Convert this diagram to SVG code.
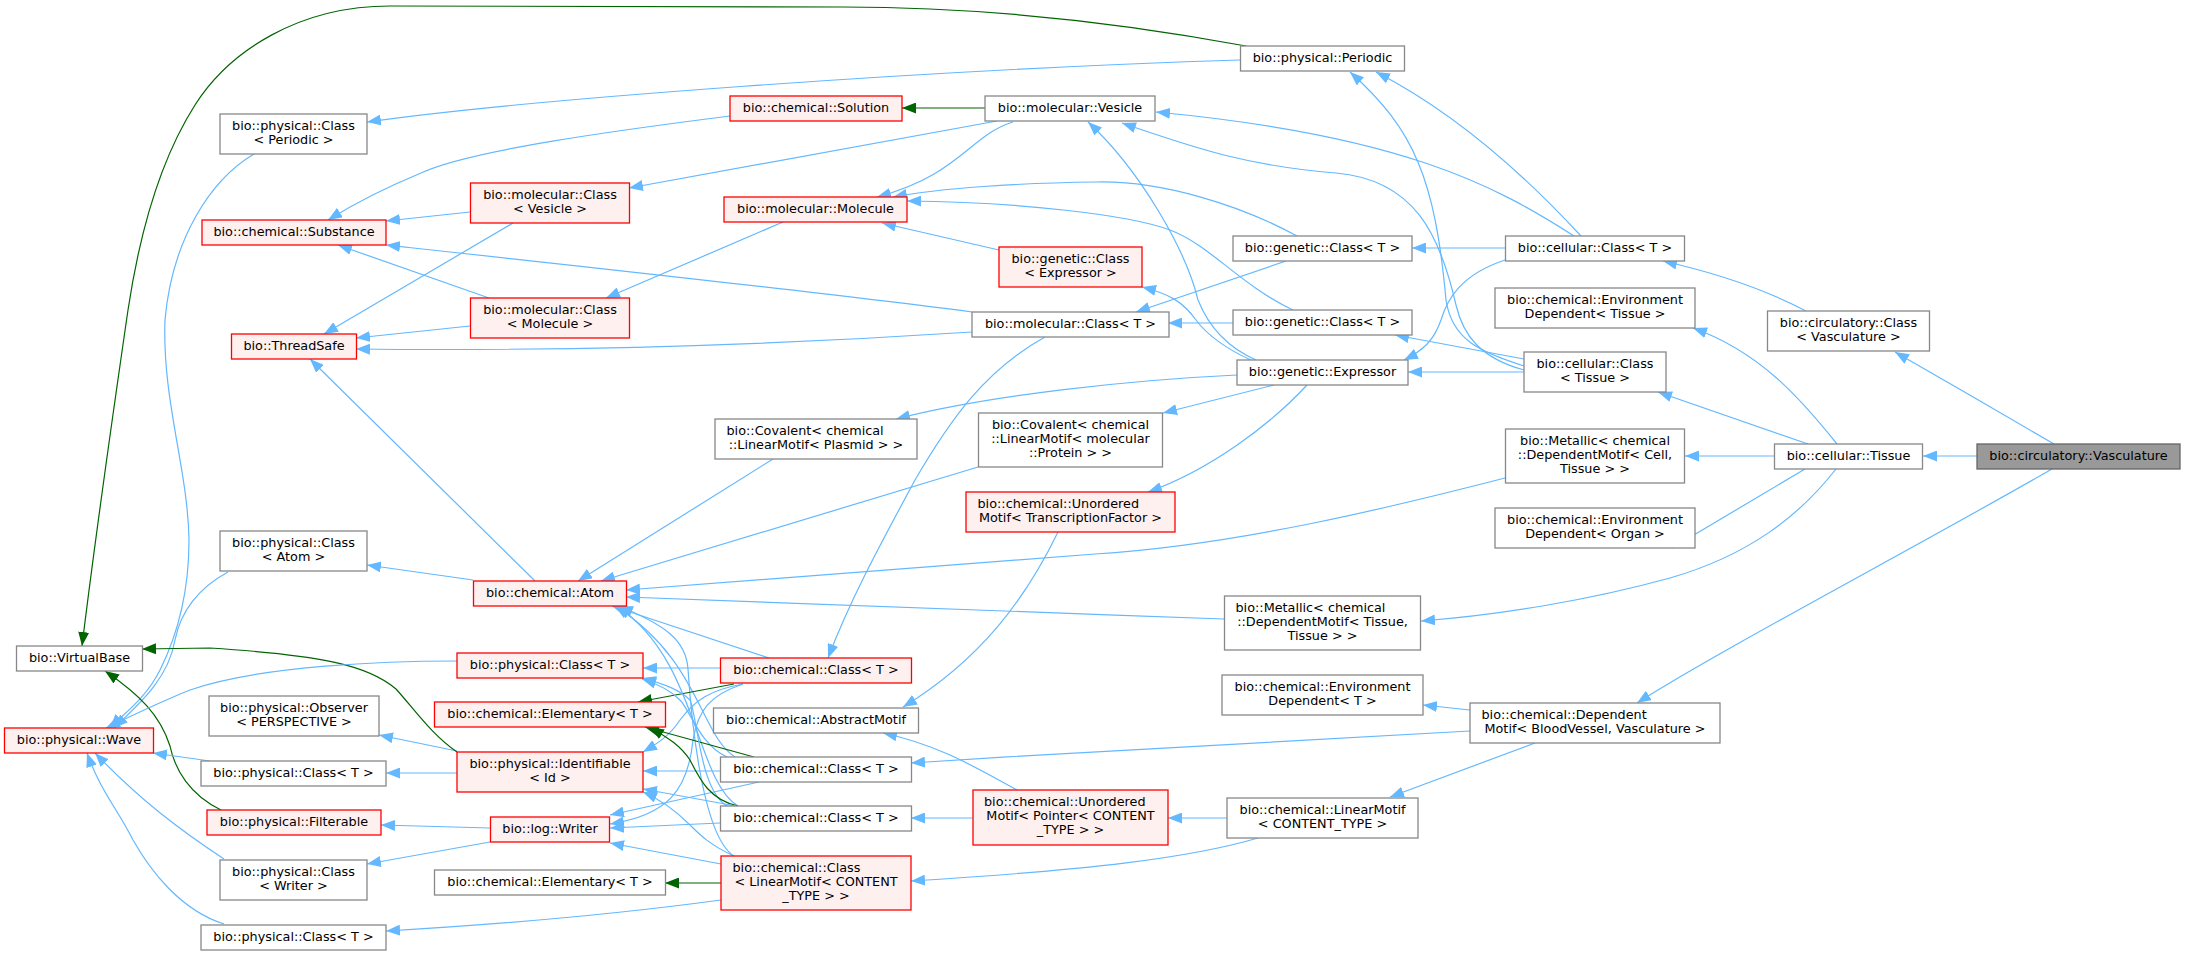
<svg xmlns="http://www.w3.org/2000/svg" width="2185" height="956" viewBox="0 0 2185 956">
<defs>
<style>
text{font-family:"DejaVu Sans","Liberation Sans",sans-serif;font-size:12.8px;fill:#000;text-anchor:middle}
text.l{text-anchor:start}
rect.n{fill:#fff;stroke:#888;stroke-width:1.3}
rect.r{fill:#fff0f0;stroke:#ff0000;stroke-width:1.3}
rect.t{fill:#999;stroke:#666;stroke-width:1.3}
#edges path{fill:none;stroke-width:1.2}
#edges path.b{stroke:#63b8ff;marker-end:url(#ab)}
#edges path.g{stroke:#006400;marker-end:url(#ag)}
</style>
<marker id="ab" viewBox="0 0 14 11" refX="14" refY="5.5" markerWidth="14" markerHeight="11" orient="auto" markerUnits="userSpaceOnUse"><path d="M0,0L14,5.5L0,11z" fill="#63b8ff"/></marker>
<marker id="ag" viewBox="0 0 14 11" refX="14" refY="5.5" markerWidth="14" markerHeight="11" orient="auto" markerUnits="userSpaceOnUse"><path d="M0,0L14,5.5L0,11z" fill="#006400"/></marker>
</defs>
<rect width="2185" height="956" fill="#fff"/>
<g id="edges">
<path class="b" d="M1977,456 L1923,456"/>
<path class="b" d="M2054,444 C2010,418 1940,378 1895,352"/>
<path class="b" d="M2052,469 C1920,545 1720,650 1637,703"/>
<path class="b" d="M1806,311 C1770,292 1725,275 1663,261"/>
<path class="b" d="M1837,444 C1800,398 1760,352 1693,328"/>
<path class="b" d="M1808,444 L1658,392"/>
<path class="b" d="M1775,456 L1685,456"/>
<path class="b" d="M1805,469 L1672,548"/>
<path class="b" d="M1836,469 C1800,515 1750,555 1670,578 C1590,600 1500,615 1421,621"/>
<path class="b" d="M1470,710 L1423,705"/>
<path class="b" d="M1470,731 C1320,738 1110,750 911,763"/>
<path class="b" d="M1535,743 C1490,760 1440,778 1390,797"/>
<path class="b" d="M1227,818 L1168,818"/>
<path class="b" d="M1258,838 C1190,858 1090,870 911,881"/>
<path class="b" d="M973,818 L911,818"/>
<path class="b" d="M1017,790 C980,770 940,745 883,733"/>
<path class="b" d="M1058,532 C1025,600 980,660 903,707"/>
<path class="b" d="M1307,385 C1270,425 1210,470 1148,492"/>
<path class="b" d="M1274,385 L1163,413"/>
<path class="b" d="M1237,375 C1130,380 990,395 896,419"/>
<path class="b" d="M1505,260 C1460,275 1447,300 1441,320 C1434,340 1424,350 1404,360"/>
<path class="b" d="M1524,372 L1408,372"/>
<path class="b" d="M1524,359 L1395,335"/>
<path class="b" d="M1524,366 C1480,352 1452,340 1446,300 C1435,180 1415,130 1350,72"/>
<path class="b" d="M1524,370 C1480,358 1463,335 1456,305 C1440,235 1415,180 1336,173 C1250,166 1200,150 1122,123"/>
<path class="b" d="M1581,236 C1520,170 1450,110 1376,72"/>
<path class="b" d="M1574,236 C1495,185 1400,135 1156,112"/>
<path class="b" d="M1505,248 L1412,248"/>
<path class="b" d="M1297,236 C1240,205 1160,180 1095,182 C1020,183 940,188 893,197"/>
<path class="b" d="M1293,310 C1240,285 1210,245 1170,230 C1130,215 1020,202 907,201"/>
<path class="b" d="M1286,261 L1136,312"/>
<path class="b" d="M1233,323 L1168,323"/>
<path class="b" d="M999,250 L882,223"/>
<path class="b" d="M1251,360 C1228,350 1207,335 1196,320 C1183,302 1170,294 1142,287"/>
<path class="b" d="M1256,360 C1222,345 1206,320 1198,300 C1186,250 1140,170 1088,122"/>
<path class="g" d="M985,108 L902,108"/>
<path class="b" d="M997,121 L629,188"/>
<path class="b" d="M1013,122 C970,135 960,175 877,197"/>
<path class="b" d="M1240,60 C920,70 520,100 367,122"/>
<path class="g" d="M1246,46 C1160,30 1010,7 843,7 L390,6 C300,6 230,50 195,105 C160,160 140,230 128,310 C112,420 95,540 82,646"/>
<path class="b" d="M254,154 C210,180 172,240 165,320 C162,400 188,470 189,540 C189,600 175,640 160,670 C145,700 122,715 110,728"/>
<path class="b" d="M228,572 C195,590 180,615 175,640 C168,680 138,705 114,728"/>
<path class="b" d="M473,580 L367,565"/>
<path class="b" d="M535,581 L310,359"/>
<path class="b" d="M773,459 L578,581"/>
<path class="b" d="M978,467 L601,581"/>
<path class="b" d="M1505,478 C1400,505 1240,545 1095,554 C920,568 770,580 626,590"/>
<path class="b" d="M1224,619 C1020,612 810,603 626,597"/>
<path class="b" d="M769,658 L612,606"/>
<path class="b" d="M735,757 C700,735 700,660 615,606"/>
<path class="b" d="M738,806 C695,780 698,660 617,606"/>
<path class="b" d="M734,856 C700,835 690,700 688,669 C686,640 665,625 619,606"/>
<path class="b" d="M1045,337 C985,370 950,420 915,480 C880,545 850,600 828,658"/>
<path class="b" d="M720,668 L643,668"/>
<path class="g" d="M734,684 L638,702"/>
<path class="b" d="M743,684 C710,690 695,700 680,720 C670,735 660,742 643,752"/>
<path class="b" d="M743,684 C710,695 698,710 693,740 C688,790 668,815 610,824"/>
<path class="b" d="M727,757 C700,745 690,710 680,700 C670,690 658,684 642,679"/>
<path class="g" d="M754,757 L645,727"/>
<path class="b" d="M720,771 L643,771"/>
<path class="b" d="M759,782 L610,815"/>
<path class="b" d="M727,806 C700,790 698,720 690,700 C680,690 665,684 642,678"/>
<path class="g" d="M738,806 C710,800 700,780 690,760 C680,745 668,738 650,727"/>
<path class="b" d="M736,806 L643,789"/>
<path class="b" d="M720,823 L610,828"/>
<path class="b" d="M734,856 C710,845 700,835 690,825 C675,810 662,800 643,792"/>
<path class="b" d="M721,864 L610,843"/>
<path class="g" d="M721,883 L665,883"/>
<path class="b" d="M721,900 C610,915 490,925 386,931"/>
<path class="b" d="M457,751 L379,735"/>
<path class="b" d="M457,773 L386,773"/>
<path class="g" d="M457,752 C432,735 415,710 396,689 C368,665 320,655 210,648 L142,649"/>
<path class="b" d="M490,828 L381,825"/>
<path class="b" d="M490,842 L367,864"/>
<path class="g" d="M221,810 C190,795 175,770 170,746 C160,715 140,695 105,671"/>
<path class="b" d="M457,661 C390,661 262,665 190,690 C160,702 133,715 106,728"/>
<path class="b" d="M210,761 L153,753"/>
<path class="b" d="M224,859 C180,830 140,800 95,753"/>
<path class="b" d="M224,924 C180,910 150,870 133,840 C118,810 100,790 87,753"/>
<path class="b" d="M730,116 C620,130 470,150 421,173 C380,190 352,205 328,220"/>
<path class="b" d="M470,212 L386,221"/>
<path class="b" d="M513,223 L324,334"/>
<path class="b" d="M489,298 L338,245"/>
<path class="b" d="M470,326 L356,338"/>
<path class="b" d="M783,222 L606,298"/>
<path class="b" d="M972,312 C820,292 570,265 386,245"/>
<path class="b" d="M972,332 C820,342 620,352 356,349"/>
</g>
<g id="n_vasc"><rect class="t" x="1977" y="444" width="203" height="25"/><text x="2078.5" y="460">bio::circulatory::Vasculature</text></g>
<g id="n_tissue"><rect class="n" x="1774.5" y="444" width="148" height="25"/><text x="1848.5" y="460">bio::cellular::Tissue</text></g>
<g id="n_circclass"><rect class="n" x="1767.5" y="311" width="162" height="40"/><text x="1848.5" y="326.5">bio::circulatory::Class</text><text x="1848.5" y="340.5">&lt; Vasculature &gt;</text></g>
<g id="n_cellclassT"><rect class="n" x="1505.5" y="236" width="179" height="25"/><text x="1595" y="252">bio::cellular::Class&lt; T &gt;</text></g>
<g id="n_envtissue"><rect class="n" x="1495" y="288" width="200" height="40"/><text x="1595" y="303.5">bio::chemical::Environment</text><text x="1595" y="317.5">Dependent&lt; Tissue &gt;</text></g>
<g id="n_cellclassTissue"><rect class="n" x="1524" y="352" width="142" height="40"/><text x="1595" y="367.5">bio::cellular::Class</text><text x="1595" y="381.5">&lt; Tissue &gt;</text></g>
<g id="n_metcell"><rect class="n" x="1505.5" y="429" width="179" height="54"/><text x="1595" y="445">bio::Metallic&lt; chemical</text><text x="1595" y="459">::DependentMotif&lt; Cell,</text><text x="1595" y="473">Tissue &gt; &gt;</text></g>
<g id="n_envorgan"><rect class="n" x="1495" y="508" width="200" height="40"/><text x="1595" y="523.5">bio::chemical::Environment</text><text x="1595" y="537.5">Dependent&lt; Organ &gt;</text></g>
<g id="n_mettissue"><rect class="n" x="1224.5" y="596" width="196" height="54"/><text class="l" x="1235.5" y="612">bio::Metallic&lt; chemical</text><text x="1322.5" y="626">::DependentMotif&lt; Tissue,</text><text x="1322.5" y="640">Tissue &gt; &gt;</text></g>
<g id="n_envT"><rect class="n" x="1222" y="675" width="201" height="40"/><text x="1322.5" y="690.5">bio::chemical::Environment</text><text x="1322.5" y="704.5">Dependent&lt; T &gt;</text></g>
<g id="n_depmotif"><rect class="n" x="1470" y="703" width="250" height="40"/><text class="l" x="1481.5" y="718.5">bio::chemical::Dependent</text><text x="1595" y="732.5">Motif&lt; BloodVessel, Vasculature &gt;</text></g>
<g id="n_linmotif"><rect class="n" x="1227" y="798" width="191" height="40"/><text x="1322.5" y="813.5">bio::chemical::LinearMotif</text><text x="1322.5" y="827.5">&lt; CONTENT_TYPE &gt;</text></g>
<g id="n_unptr"><rect class="r" x="973" y="790" width="195" height="55"/><text class="l" x="984" y="806">bio::chemical::Unordered</text><text x="1070.5" y="820">Motif&lt; Pointer&lt; CONTENT</text><text x="1070.5" y="834">_TYPE &gt; &gt;</text></g>
<g id="n_clslin"><rect class="r" x="721" y="856" width="190" height="54"/><text class="l" x="732.5" y="872">bio::chemical::Class</text><text x="816" y="886">&lt; LinearMotif&lt; CONTENT</text><text x="816" y="900">_TYPE &gt; &gt;</text></g>
<g id="n_chemT1"><rect class="r" x="720.5" y="658" width="191" height="25"/><text x="816" y="674">bio::chemical::Class&lt; T &gt;</text></g>
<g id="n_absmotif"><rect class="n" x="713.5" y="708" width="205" height="25"/><text x="816" y="724">bio::chemical::AbstractMotif</text></g>
<g id="n_chemT2"><rect class="n" x="720.5" y="757" width="191" height="25"/><text x="816" y="773">bio::chemical::Class&lt; T &gt;</text></g>
<g id="n_chemT3"><rect class="n" x="720.5" y="806" width="191" height="25"/><text x="816" y="822">bio::chemical::Class&lt; T &gt;</text></g>
<g id="n_physTred"><rect class="r" x="457" y="653" width="186" height="25"/><text x="550" y="669">bio::physical::Class&lt; T &gt;</text></g>
<g id="n_elemRed"><rect class="r" x="434.5" y="702" width="231" height="25"/><text x="550" y="718">bio::chemical::Elementary&lt; T &gt;</text></g>
<g id="n_ident"><rect class="r" x="457" y="752" width="186" height="40"/><text x="550" y="767.5">bio::physical::Identifiable</text><text x="550" y="781.5">&lt; Id &gt;</text></g>
<g id="n_writer"><rect class="r" x="490.5" y="817" width="119" height="25"/><text x="550" y="833">bio::log::Writer</text></g>
<g id="n_elemGray"><rect class="n" x="434.5" y="870" width="231" height="25"/><text x="550" y="886">bio::chemical::Elementary&lt; T &gt;</text></g>
<g id="n_virtual"><rect class="n" x="16.5" y="646" width="126" height="25"/><text x="79.5" y="662">bio::VirtualBase</text></g>
<g id="n_wave"><rect class="r" x="4.5" y="728" width="149" height="25"/><text x="79" y="744">bio::physical::Wave</text></g>
<g id="n_observer"><rect class="n" x="209" y="696" width="170" height="40"/><text x="294" y="711.5">bio::physical::Observer</text><text x="294" y="725.5">&lt; PERSPECTIVE &gt;</text></g>
<g id="n_physT1"><rect class="n" x="201" y="761" width="185" height="25"/><text x="293.5" y="777">bio::physical::Class&lt; T &gt;</text></g>
<g id="n_filter"><rect class="r" x="207" y="810" width="174" height="25"/><text x="294" y="826">bio::physical::Filterable</text></g>
<g id="n_clsWriter"><rect class="n" x="220" y="860" width="147" height="40"/><text x="293.5" y="875.5">bio::physical::Class</text><text x="293.5" y="889.5">&lt; Writer &gt;</text></g>
<g id="n_physT2"><rect class="n" x="201" y="925" width="185" height="25"/><text x="293.5" y="941">bio::physical::Class&lt; T &gt;</text></g>
<g id="n_clsAtom"><rect class="n" x="220" y="531" width="147" height="40"/><text x="293.5" y="546.5">bio::physical::Class</text><text x="293.5" y="560.5">&lt; Atom &gt;</text></g>
<g id="n_atom"><rect class="r" x="473.5" y="581" width="153" height="25"/><text x="550" y="597">bio::chemical::Atom</text></g>
<g id="n_threadsafe"><rect class="r" x="231.5" y="334" width="125" height="25"/><text x="294" y="350">bio::ThreadSafe</text></g>
<g id="n_substance"><rect class="r" x="202" y="220" width="184" height="25"/><text x="294" y="236">bio::chemical::Substance</text></g>
<g id="n_clsPeriodic"><rect class="n" x="220" y="114" width="147" height="40"/><text x="293.5" y="129.5">bio::physical::Class</text><text x="293.5" y="143.5">&lt; Periodic &gt;</text></g>
<g id="n_clsVesicle"><rect class="r" x="470.5" y="183" width="159" height="40"/><text x="550" y="198.5">bio::molecular::Class</text><text x="550" y="212.5">&lt; Vesicle &gt;</text></g>
<g id="n_clsMolecule"><rect class="r" x="470.5" y="298" width="159" height="40"/><text x="550" y="313.5">bio::molecular::Class</text><text x="550" y="327.5">&lt; Molecule &gt;</text></g>
<g id="n_solution"><rect class="r" x="730" y="96" width="172" height="25"/><text x="816" y="112">bio::chemical::Solution</text></g>
<g id="n_vesicle"><rect class="n" x="985" y="96" width="170" height="25"/><text x="1070" y="112">bio::molecular::Vesicle</text></g>
<g id="n_molecule"><rect class="r" x="724" y="197" width="183" height="25"/><text x="815.5" y="213">bio::molecular::Molecule</text></g>
<g id="n_genExpressor"><rect class="r" x="999" y="247" width="143" height="40"/><text x="1070.5" y="262.5">bio::genetic::Class</text><text x="1070.5" y="276.5">&lt; Expressor &gt;</text></g>
<g id="n_molT"><rect class="n" x="972" y="312" width="197" height="25"/><text x="1070.5" y="328">bio::molecular::Class&lt; T &gt;</text></g>
<g id="n_periodic"><rect class="n" x="1240.5" y="46" width="164" height="25"/><text x="1322.5" y="62">bio::physical::Periodic</text></g>
<g id="n_genT1"><rect class="n" x="1233" y="236" width="179" height="25"/><text x="1322.5" y="252">bio::genetic::Class&lt; T &gt;</text></g>
<g id="n_genT2"><rect class="n" x="1233" y="310" width="179" height="25"/><text x="1322.5" y="326">bio::genetic::Class&lt; T &gt;</text></g>
<g id="n_expressor"><rect class="n" x="1237" y="360" width="171" height="25"/><text x="1322.5" y="376">bio::genetic::Expressor</text></g>
<g id="n_covPlasmid"><rect class="n" x="715" y="419" width="202" height="40"/><text class="l" x="726.5" y="434.5">bio::Covalent&lt; chemical</text><text x="816" y="448.5">::LinearMotif&lt; Plasmid &gt; &gt;</text></g>
<g id="n_covProtein"><rect class="n" x="978.5" y="413" width="184" height="54"/><text x="1070.5" y="429">bio::Covalent&lt; chemical</text><text x="1070.5" y="443">::LinearMotif&lt; molecular</text><text x="1070.5" y="457">::Protein &gt; &gt;</text></g>
<g id="n_unTF"><rect class="r" x="966" y="492" width="209" height="40"/><text class="l" x="977.5" y="507.5">bio::chemical::Unordered</text><text x="1070.5" y="521.5">Motif&lt; TranscriptionFactor &gt;</text></g>
</svg>
